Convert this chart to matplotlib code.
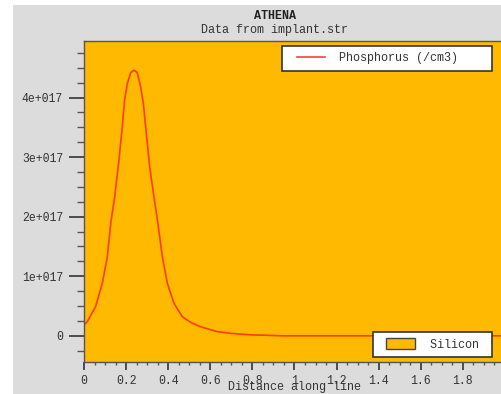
import numpy as np
import matplotlib
matplotlib.use("Agg")
import matplotlib.pyplot as plt
from matplotlib.patches import Rectangle, Patch
from matplotlib.lines import Line2D
from matplotlib.legend_handler import HandlerLine2D, HandlerPatch
from matplotlib.ticker import MultipleLocator

## Donnees

distance = [0.0, 0.016, 0.055, 0.087, 0.111, 0.127, 0.146, 0.166, 0.182, 0.193,
            0.206, 0.222, 0.2375, 0.253, 0.269, 0.282, 0.296, 0.312, 0.332, 0.351,
            0.372, 0.396, 0.427, 0.467, 0.488, 0.51, 0.551, 0.63, 0.70, 0.788,
            0.945, 1.2, 1.5, 2.0]
phosphorus = [0.18, 0.24, 0.49, 0.88, 1.33, 1.89, 2.34, 2.95, 3.51, 3.96,
              4.24, 4.42, 4.46, 4.42, 4.18, 3.90, 3.40, 2.84, 2.34, 1.89,
              1.33, 0.88, 0.55, 0.32, 0.27, 0.22, 0.156, 0.072, 0.04, 0.017,
              0.0, 0.0, 0.0, 0.0]
phosphorus = np.array(phosphorus) * 1e17

xticks = [0, 0.2, 0.4, 0.6, 0.8, 1, 1.2, 1.4, 1.6, 1.8]
xticklabels = ["0", "0.2", "0.4", "0.6", "0.8", "1", "1.2", "1.4", "1.6", "1.8"]
yticks = [0, 1e17, 2e17, 3e17, 4e17]
yticklabels = ["0", "1e+017", "2e+017", "3e+017", "4e+017"]

## Figure

W, H = 502, 394
mono = "Liberation Mono"
txt = "#333333"
orange = "#ffb900"

fig = plt.figure(figsize=(W / 100, H / 100), dpi=100, facecolor="white")
fig.patches.append(Rectangle((13 / W, 0), 1, 1 - 5 / H, transform=fig.transFigure,
                             facecolor="#dcdcdc", edgecolor="none", zorder=-10))

ax = fig.add_axes([84 / W, 1 - 362 / H, (505 - 84) / W, (362 - 41) / H])
ax.set_facecolor(orange)
ax.set_xlim(0, 2.0)
ax.set_ylim(-0.44e17, 4.95e17)

ax.plot(distance, phosphorus, color="#ff3c00", lw=1.2)

for s in ax.spines.values():
    s.set_color("#555555")
    s.set_linewidth(1)

ax.set_xticks(xticks)
ax.set_xticklabels(xticklabels)
ax.set_yticks(yticks)
ax.set_yticklabels(yticklabels)
ax.xaxis.set_minor_locator(MultipleLocator(0.05))
ax.yaxis.set_minor_locator(MultipleLocator(0.25e17))
ax.tick_params(axis="y", which="major", length=11, width=1.2, color="#333333",
               labelsize=8.3, labelcolor=txt, pad=4)
ax.tick_params(axis="y", which="minor", length=5, width=1, color="#555555")
ax.tick_params(axis="x", which="major", length=5.5, width=1.2, color="#333333",
               labelsize=8.3, labelcolor=txt, pad=4)
ax.tick_params(axis="x", which="minor", length=2.5, width=1, color="#555555")
for lab in ax.get_xticklabels() + ax.get_yticklabels():
    lab.set_fontfamily(mono)

fig.text(294 / W, 1 - 387 / H, "Distance along line", ha="center", va="center",
         family=mono, fontsize=8.5, color=txt)
fig.text(275 / W, 1 - 16 / H, "ATHENA", ha="center", va="center",
         family=mono, fontsize=8.5, color="#222222", weight="bold")
fig.text(275 / W, 1 - 30 / H, "Data from implant.str", ha="center", va="center",
         family=mono, fontsize=8.5, color=txt)

## Legendes

leg1 = ax.legend([Line2D([], [], color="#ff4040", lw=1.2)], ["Phosphorus (/cm3)    "],
                 handler_map={Line2D: HandlerLine2D(xpad=0.68)},
                 loc="upper right", bbox_to_anchor=(492 / W, 1 - 46 / H),
                 bbox_transform=fig.transFigure, fancybox=False, framealpha=1,
                 edgecolor="#333333", borderaxespad=0, handlelength=3.05,
                 handletextpad=1.15, borderpad=0.55, prop={"family": mono, "size": 8.5})
leg1.get_frame().set_linewidth(1.2)
for t in leg1.get_texts():
    t.set_color(txt)
ax.add_artist(leg1)

leg2 = ax.legend([Patch(facecolor=orange, edgecolor="#444444")], ["Silicon "],
                 handler_map={Patch: HandlerPatch(xpad=0.6)},
                 loc="upper right", bbox_to_anchor=(492 / W, 1 - 332 / H),
                 bbox_transform=fig.transFigure, fancybox=False, framealpha=1,
                 edgecolor="#333333", borderaxespad=0, handlelength=3.0,
                 handleheight=1.0, handletextpad=1.25, borderpad=0.55,
                 prop={"family": mono, "size": 8.5})
leg2.get_frame().set_linewidth(1.2)
for t in leg2.get_texts():
    t.set_color(txt)

fig.savefig("out.png", dpi=100, facecolor=fig.get_facecolor())
